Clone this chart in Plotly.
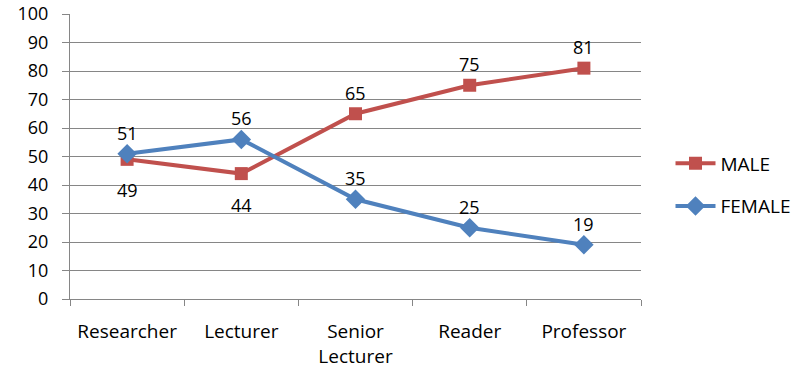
import plotly.graph_objects as go

categories = ["Researcher", "Lecturer", "Senior<br>Lecturer", "Reader", "Professor"]
male = [49, 44, 65, 75, 81]
female = [51, 56, 35, 25, 19]
y_ticks = list(range(0, 101, 10))

RED = "#C0504D"
BLUE = "#4F81BD"
FONT = "Open Sans"
FS = 18

fig = go.Figure()
fig.add_trace(go.Scatter(
    x=categories, y=male, name="MALE", mode="lines+markers", legendgroup="m",
    line=dict(color=RED, width=4),
    marker=dict(symbol="square", size=13, color=RED),
))
fig.add_trace(go.Scatter(
    x=categories, y=female, name="FEMALE", mode="lines+markers", legendgroup="f",
    line=dict(color=BLUE, width=4),
    marker=dict(symbol="diamond", size=15, color=BLUE),
))

# data labels: male labels below when below female, otherwise above
for c, m, f in zip(categories, male, female):
    fig.add_annotation(x=c, y=m, text=str(m), showarrow=False,
                       yshift=(-31 if m < f else 21),
                       font=dict(family=FONT, size=FS, color="#000"))
    fig.add_annotation(x=c, y=f, text=str(f), showarrow=False,
                       yshift=21,
                       font=dict(family=FONT, size=FS, color="#000"))

fig.update_layout(
    width=803, height=370,
    margin=dict(l=70, r=162, t=14, b=71, autoexpand=False),
    paper_bgcolor="white", plot_bgcolor="white",
    font=dict(family=FONT, size=FS, color="#000"),
    showlegend=True,
    legend=dict(xref="container", x=0.835, xanchor="left",
                y=0.40, yanchor="middle",
                font=dict(family=FONT, size=19), tracegroupgap=15,
                itemwidth=40),
    xaxis=dict(
        type="category", range=[-0.5, 4.5], automargin=False,
        showline=True, linecolor="#868686", linewidth=1,
        ticks="outside", tickson="boundaries", ticklen=6, tickcolor="#868686",
        showgrid=False, tickfont=dict(family=FONT, size=19),
        ticklabelstandoff=15,
    ),
    yaxis=dict(
        range=[0, 100], tickvals=y_ticks, automargin=False,
        showline=True, linecolor="#868686", linewidth=1,
        ticks="outside", ticklen=7, tickcolor="#868686",
        showgrid=True, gridcolor="#868686", gridwidth=1,
        zeroline=False, tickfont=dict(family=FONT, size=FS),
        ticklabelstandoff=10,
    ),
)

fig.write_html("out.html")
